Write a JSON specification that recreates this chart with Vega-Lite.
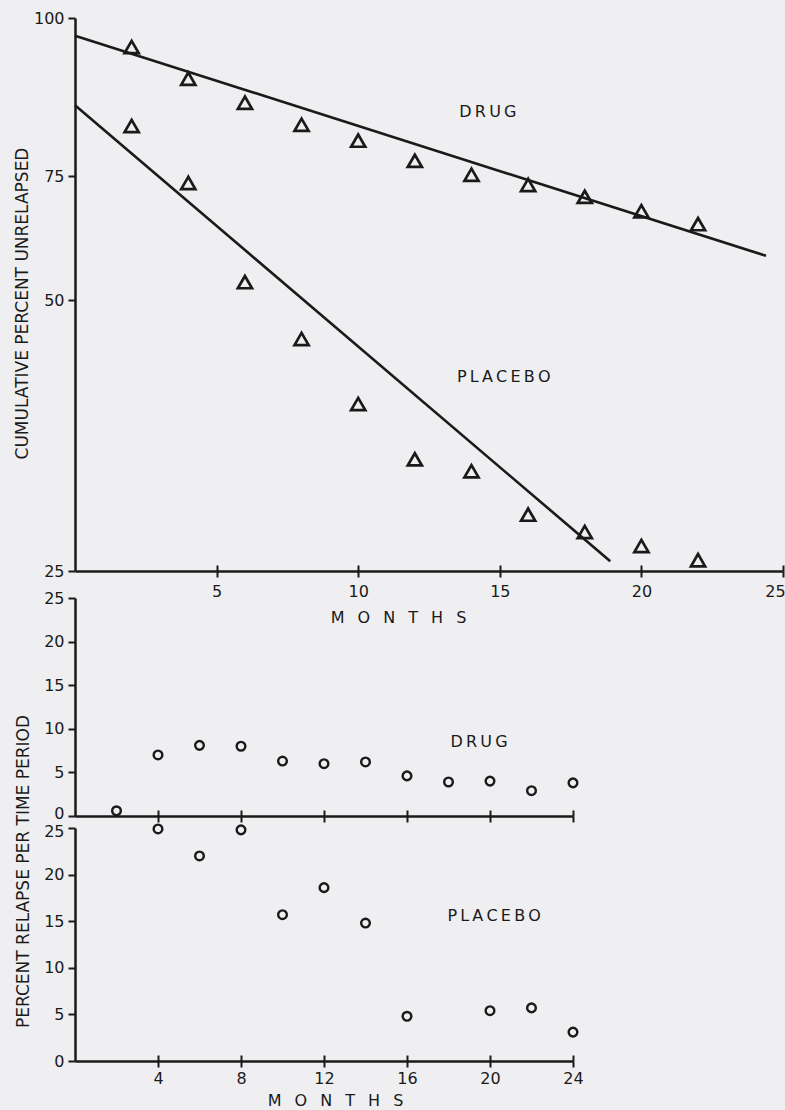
{
  "$schema": "https://vega.github.io/schema/vega-lite/v6.json",
  "width": 710,
  "height": 1043,
  "autosize": {"type": "none"},
  "padding": {"left": 75, "top": 18, "right": 0, "bottom": 49},
  "background": "#efeff1",
  "config": {
    "view": {"stroke": null},
    "font": "DejaVu Sans",
    "axis": {
      "domainColor": "#1a1a1a", "domainWidth": 2.5,
      "tickColor": "#1a1a1a", "tickWidth": 2,
      "labelColor": "#1a1a1a", "labelFont": "DejaVu Sans", "labelFontSize": 16,
      "titleFont": "DejaVu Sans", "titleFontSize": 17, "titleFontWeight": "normal", "titleColor": "#1a1a1a",
      "grid": false, "labelFlush": false, "labelOverlap": false
    }
  },
  "datasets": {
    "tri": [
      {"group": "Drug", "month": 2, "value": 95.4},
      {"group": "Drug", "month": 4, "value": 90.4},
      {"group": "Drug", "month": 6, "value": 86.6},
      {"group": "Drug", "month": 8, "value": 83.1},
      {"group": "Drug", "month": 10, "value": 80.6},
      {"group": "Drug", "month": 12, "value": 77.4},
      {"group": "Drug", "month": 14, "value": 75.2},
      {"group": "Drug", "month": 16, "value": 73.2},
      {"group": "Drug", "month": 18, "value": 70.8},
      {"group": "Drug", "month": 20, "value": 67.9},
      {"group": "Drug", "month": 22, "value": 65.3},
      {"group": "Placebo", "month": 2, "value": 82.9},
      {"group": "Placebo", "month": 4, "value": 73.6},
      {"group": "Placebo", "month": 6, "value": 53.6},
      {"group": "Placebo", "month": 8, "value": 46.4},
      {"group": "Placebo", "month": 10, "value": 40.4},
      {"group": "Placebo", "month": 12, "value": 35.3},
      {"group": "Placebo", "month": 14, "value": 34.2},
      {"group": "Placebo", "month": 16, "value": 30.2},
      {"group": "Placebo", "month": 18, "value": 28.6},
      {"group": "Placebo", "month": 20, "value": 27.3},
      {"group": "Placebo", "month": 22, "value": 26.0}
    ],
    "fit": [
      {"group": "Drug", "month": 0, "value": 97.2},
      {"group": "Drug", "month": 24.4, "value": 58.9},
      {"group": "Placebo", "month": 0, "value": 86.2},
      {"group": "Placebo", "month": 18.9, "value": 25.9}
    ],
    "lab1": [
      {"label": "D\u2009R\u2009U\u2009G", "month": 14.58, "value": 85.1},
      {"label": "P\u2009L\u2009A\u2009C\u2009E\u2009B\u2009O", "month": 15.14, "value": 42.9}
    ],
    "mid": [
      {"month": 2, "value": 0.6},
      {"month": 4, "value": 7.0},
      {"month": 6, "value": 8.1},
      {"month": 8, "value": 8.0},
      {"month": 10, "value": 6.3},
      {"month": 12, "value": 6.0},
      {"month": 14, "value": 6.2},
      {"month": 16, "value": 4.6},
      {"month": 18, "value": 3.9},
      {"month": 20, "value": 4.0},
      {"month": 22, "value": 2.9},
      {"month": 24, "value": 3.8}
    ],
    "lab2": [
      {"label": "D\u2009R\u2009U\u2009G", "month": 19.47, "value": 8.5}
    ],
    "bot": [
      {"month": 4, "value": 24.9},
      {"month": 6, "value": 22.0},
      {"month": 8, "value": 24.8},
      {"month": 10, "value": 15.7},
      {"month": 12, "value": 18.6},
      {"month": 14, "value": 14.8},
      {"month": 16, "value": 4.8},
      {"month": 20, "value": 5.4},
      {"month": 22, "value": 5.7},
      {"month": 24, "value": 3.1}
    ],
    "lab3": [
      {"label": "P\u2009L\u2009A\u2009C\u2009E\u2009B\u2009O", "month": 20.2, "value": 15.6}
    ]
  },
  "layer": [
    {
      "layer": [
        {
          "data": {"name": "tri"},
          "mark": {"type": "point", "shape": "triangle-up", "filled": false, "color": "#1a1a1a", "strokeWidth": 2.7, "size": 200, "opacity": 1},
          "encoding": {
            "x": {"field": "month", "type": "quantitative",
              "scale": {"domain": [0, 25], "range": [0, 708], "nice": false, "zero": false},
              "axis": {"orient": "bottom", "offset": -490, "values": [5, 10, 15, 20, 25], "tickSize": 6, "labelPadding": 6,
                "labelOffset": {"condition": {"test": "datum.value == 25", "value": -8}, "value": 0},
                "title": "M\u2002 O\u2002 N\u2002 T\u2002 H\u2002 S", "titleX": 323, "titleY": 46, "titleBaseline": "middle", "titleFontSize": 16}},
            "y": {"field": "value", "type": "quantitative",
              "scale": {"domain": [25, 50, 75, 100], "range": [553, 282, 158, 0], "nice": false, "zero": false},
              "axis": {"orient": "left", "values": [25, 50, 75, 100], "tickSize": 7, "labelPadding": 4,
                "title": "CUMULATIVE PERCENT UNRELAPSED", "titleX": -53, "titleY": 285, "titleBaseline": "middle"}},
            "detail": {"field": "group"}
          }
        },
        {
          "data": {"name": "fit"},
          "mark": {"type": "line", "color": "#1a1a1a", "strokeWidth": 2.6},
          "encoding": {
            "x": {"field": "month", "type": "quantitative",
              "scale": {"domain": [0, 25], "range": [0, 708], "nice": false, "zero": false},
              "axis": {"orient": "bottom", "offset": -490, "values": [5, 10, 15, 20, 25], "tickSize": -6, "domain": false, "labels": false, "title": null}},
            "y": {"field": "value", "type": "quantitative",
              "scale": {"domain": [25, 50, 75, 100], "range": [553, 282, 158, 0], "nice": false, "zero": false},
              "axis": null},
            "detail": {"field": "group"}
          }
        },
        {
          "data": {"name": "lab1"},
          "mark": {"type": "text", "font": "DejaVu Sans", "fontSize": 16, "color": "#1a1a1a", "align": "center", "baseline": "middle"},
          "encoding": {
            "x": {"field": "month", "type": "quantitative",
              "scale": {"domain": [0, 25], "range": [0, 708], "nice": false, "zero": false}, "axis": null},
            "y": {"field": "value", "type": "quantitative",
              "scale": {"domain": [25, 50, 75, 100], "range": [553, 282, 158, 0], "nice": false, "zero": false}, "axis": null},
            "text": {"field": "label"}
          }
        }
      ],
      "resolve": {"axis": {"x": "independent", "y": "independent"}}
    },
    {
      "layer": [
        {
          "data": {"name": "mid"},
          "mark": {"type": "point", "shape": "circle", "filled": false, "color": "#1a1a1a", "strokeWidth": 2.4, "size": 75, "opacity": 1},
          "encoding": {
            "x": {"field": "month", "type": "quantitative",
              "scale": {"domain": [0, 24], "range": [0, 498], "nice": false, "zero": false},
              "axis": {"orient": "bottom", "offset": -245, "values": [4, 8, 12, 16, 20, 24], "tickSize": 6, "labels": false, "title": null}},
            "y": {"field": "value", "type": "quantitative",
              "scale": {"domain": [0, 25], "range": [798, 580], "nice": false, "zero": false},
              "axis": {"orient": "left", "values": [0, 5, 10, 15, 20, 25], "tickSize": 7, "labelPadding": 4,
                "labelOffset": {"condition": {"test": "datum.value == 0", "value": -3}, "value": 0},
                "title": "PERCENT RELAPSE PER TIME PERIOD", "titleX": -52, "titleY": 853, "titleBaseline": "middle"}}
          }
        },
        {
          "data": {"name": "lab2"},
          "mark": {"type": "text", "font": "DejaVu Sans", "fontSize": 16, "color": "#1a1a1a", "align": "center", "baseline": "middle"},
          "encoding": {
            "x": {"field": "month", "type": "quantitative",
              "scale": {"domain": [0, 24], "range": [0, 498], "nice": false, "zero": false},
              "axis": {"orient": "bottom", "offset": -245, "values": [4, 8, 12, 16, 20, 24], "tickSize": -6, "domain": false, "labels": false, "title": null}},
            "y": {"field": "value", "type": "quantitative",
              "scale": {"domain": [0, 25], "range": [798, 580], "nice": false, "zero": false}, "axis": null},
            "text": {"field": "label"}
          }
        }
      ],
      "resolve": {"axis": {"x": "independent", "y": "independent"}}
    },
    {
      "layer": [
        {
          "data": {"name": "bot"},
          "mark": {"type": "point", "shape": "circle", "filled": false, "color": "#1a1a1a", "strokeWidth": 2.4, "size": 75, "opacity": 1},
          "encoding": {
            "x": {"field": "month", "type": "quantitative",
              "scale": {"domain": [0, 24], "range": [0, 498], "nice": false, "zero": false},
              "axis": {"orient": "bottom", "values": [4, 8, 12, 16, 20, 24], "tickSize": 6, "labelPadding": 3,
                "title": "M\u2002 O\u2002 N\u2002 T\u2002 H\u2002 S", "titleX": 260, "titleY": 39, "titleBaseline": "middle", "titleFontSize": 16}},
            "y": {"field": "value", "type": "quantitative",
              "scale": {"domain": [0, 25], "range": [1043, 810], "nice": false, "zero": false},
              "axis": {"orient": "left", "values": [0, 5, 10, 15, 20, 25], "tickSize": 7, "labelPadding": 4,
                "labelOffset": {"condition": {"test": "datum.value == 25", "value": 3}, "value": 0}, "title": null}}
          }
        },
        {
          "data": {"name": "lab3"},
          "mark": {"type": "text", "font": "DejaVu Sans", "fontSize": 16, "color": "#1a1a1a", "align": "center", "baseline": "middle"},
          "encoding": {
            "x": {"field": "month", "type": "quantitative",
              "scale": {"domain": [0, 24], "range": [0, 498], "nice": false, "zero": false},
              "axis": {"orient": "bottom", "values": [4, 8, 12, 16, 20, 24], "tickSize": -6, "domain": false, "labels": false, "title": null}},
            "y": {"field": "value", "type": "quantitative",
              "scale": {"domain": [0, 25], "range": [1043, 810], "nice": false, "zero": false}, "axis": null},
            "text": {"field": "label"}
          }
        }
      ],
      "resolve": {"axis": {"x": "independent", "y": "independent"}}
    }
  ],
  "resolve": {"scale": {"x": "independent", "y": "independent"}}
}
